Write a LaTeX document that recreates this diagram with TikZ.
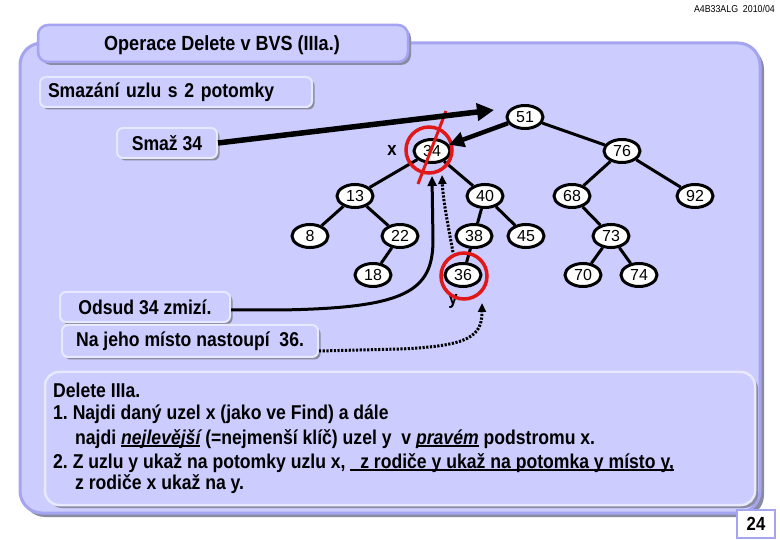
\documentclass[tikz,border=0pt]{standalone}
\usepackage{fontspec}
\setmainfont{Liberation Sans}[FakeStretch=0.88]
\newfontfamily\plainsans{Liberation Sans}
\usetikzlibrary{shapes.geometric,arrows.meta,shadows}
\definecolor{pfill}{HTML}{CCCCFF}
\definecolor{pborder}{HTML}{A4A4F0}
\definecolor{shadowc}{HTML}{8A8AA0}
\definecolor{boxlight}{HTML}{E8E8FF}
\definecolor{redc}{HTML}{E01818}
\newcommand{\myul}[1]{\setbox0\hbox{#1}\rlap{\rule[-3pt]{\wd0}{1.6pt}}\box0\relax}
\begin{document}
\frenchspacing
\begin{tikzpicture}[x=1pt,y=-1pt,
  lbox/.style={rounded corners=6pt, fill=pfill, draw=boxlight, line width=2pt,
    drop shadow={shadow xshift=2.5pt, shadow yshift=-2.5pt, fill=shadowc, opacity=1},
    font=\fontsize{20}{22}\selectfont\bfseries, inner sep=0pt},
  tnode/.style={ellipse, draw=black, fill=white, line width=3pt, minimum width=36pt,
    minimum height=23pt, inner sep=0pt, font=\plainsans\fontsize{16}{18}\selectfont},
  edge/.style={line width=3pt},
  redring/.style={circle, draw=redc, line width=3.5pt, minimum size=46pt, inner sep=0pt},
  txt/.style={anchor=base west, inner sep=0pt, font=\fontsize{20}{22}\selectfont\bfseries},
  bigarrow/.style={-{Triangle[length=17pt,width=17pt]}},
  dotarrow/.style={line width=3pt, dash pattern=on 2.2pt off 1.5pt, -{Triangle[length=9pt,width=8pt]}}
]
\useasboundingbox (0,0) rectangle (780,540);
\fill[white] (0,0) rectangle (780,540);
% header
\node[anchor=east, inner sep=0pt, font=\fontsize{10}{11}\selectfont] (hdr) at (775,9) {A4B33ALG\ \ 2010/04};
% main panel
\fill[shadowc, rounded corners=22pt] (23,47) rectangle (764,517);
\draw[pborder, line width=3pt, fill=pfill, rounded corners=22pt] (20,43) rectangle (760,513);
% title tab
\fill[shadowc, rounded corners=10pt] (41,28) rectangle (411,65);
\draw[pborder, line width=2.5pt, fill=pfill, rounded corners=10pt] (38,25) rectangle (408,62);
\node[font=\fontsize{20.5}{22}\selectfont\bfseries, inner sep=0pt] (title) at (222,45) {Operace Delete v BVS (IIIa.)};
% label boxes
\node[lbox, minimum width=272pt, minimum height=30pt, text width=256pt, align=left] (sub) at (176,92) {Smazání uzlu s 2 potomky};
\node[lbox, minimum width=100pt, minimum height=30pt] (smaz) at (167,143) {Smaž 34};
\node[lbox, minimum width=170pt, minimum height=30pt] (odsud) at (145,307) {Odsud 34 zmizí.};
\node[lbox, minimum width=256pt, minimum height=32pt] (nahr) at (190,341) {Na jeho místo nastoupí\ \ 36.};
% bottom text box
\fill[shadowc, rounded corners=14pt] (48,375) rectangle (758,508);
\draw[boxlight, line width=2.5pt, fill=pfill, rounded corners=14pt] (45,372) rectangle (755,505);
\node[txt] (l1) at (53,397) {Delete IIIa.};
\node[txt] (l2) at (53,420) {1. Najdi daný uzel x (jako ve Find) a dále};
\node[txt] (l3) at (53,444) {\hspace{22pt}najdi \myul{\itshape nejlevější} (=nejmenší klíč) uzel y\ \ v \myul{\itshape pravém} podstromu x.};
\node[txt] (l4) at (53,468) {2. Z uzlu y ukaž na potomky uzlu x, \myul{\ \ z rodiče y ukaž na potomka y místo y,}};
\node[txt] (l5) at (53,489) {\hspace{22pt}z rodiče x ukaž na y.};
% page number
\node[draw=pborder, line width=2pt, fill=white, minimum width=38pt, minimum height=28pt, inner sep=0pt,
  font=\fontsize{19}{20}\selectfont\bfseries] (pg) at (756,524) {24};
% tree nodes
\node[tnode] (n51) at (525,117) {51};
\node[tnode] (n34) at (432,151) {34};
\node[tnode] (n76) at (622,151) {76};
\node[tnode] (n13) at (355,196) {13};
\node[tnode] (n40) at (485,196) {40};
\node[tnode] (n68) at (572,196) {68};
\node[tnode] (n92) at (695,196) {92};
\node[tnode] (n8) at (310,236) {8};
\node[tnode] (n22) at (400,236) {22};
\node[tnode] (n38) at (474,236) {38};
\node[tnode] (n45) at (526,236) {45};
\node[tnode] (n73) at (611,236) {73};
\node[tnode] (n18) at (373,275) {18};
\node[tnode] (n36) at (463,275) {36};
\node[tnode] (n70) at (583,275) {70};
\node[tnode] (n74) at (639,275) {74};
% tree edges
\draw[edge] (n51) -- (n76);
\draw[edge] (n34) -- (n13);
\draw[edge] (n34) -- (n40);
\draw[edge] (n76) -- (n68);
\draw[edge] (n76) -- (n92);
\draw[edge] (n13) -- (n8);
\draw[edge] (n13) -- (n22);
\draw[edge] (n22) -- (n18);
\draw[edge] (n40) -- (n38);
\draw[edge] (n40) -- (n45);
\draw[edge] (n38) -- (n36);
\draw[edge] (n68) -- (n73);
\draw[edge] (n73) -- (n70);
\draw[edge] (n73) -- (n74);
% labels x, y
\node[font=\fontsize{19}{20}\selectfont\bfseries, inner sep=0pt] (lx) at (392,150) {x};
\node[font=\fontsize{19}{20}\selectfont\bfseries, inner sep=0pt] (ly) at (453,301) {y};
% red marks
\node[redring] (rc34) at (429,150) {};
\node[redring] (rc36) at (464,276) {};
\coordinate (ra) at (446,111);
\coordinate (rb) at (418,184);
\draw[redc, line width=3pt] (ra) -- (rb);
% arrows
\coordinate (tip51) at (494,110);
\draw[line width=5.5pt, bigarrow] (smaz.east) -- (tip51);
\draw[line width=4.5pt, -{Triangle[length=15pt,width=15pt]}] (n51) -- (n34);
\coordinate (tipc) at (432,176);
\draw[line width=3pt, -{Triangle[length=10pt,width=9pt]}] ([yshift=-3pt]odsud.east) -- (280,310) .. controls (405,308) and (433,292) .. (433,240) -- (tipc);
\coordinate (tipy) at (482,303);
\draw[dotarrow] ([yshift=-10pt]nahr.east) -- (400,349) .. controls (470,346) and (482,336) .. (tipy);
\coordinate (tipd) at (442,175);
\draw[dotarrow] ([xshift=-11pt,yshift=-1pt]rc36.north) .. controls (448,225) and (443,200) .. (tipd);
\end{tikzpicture}
\end{document}
